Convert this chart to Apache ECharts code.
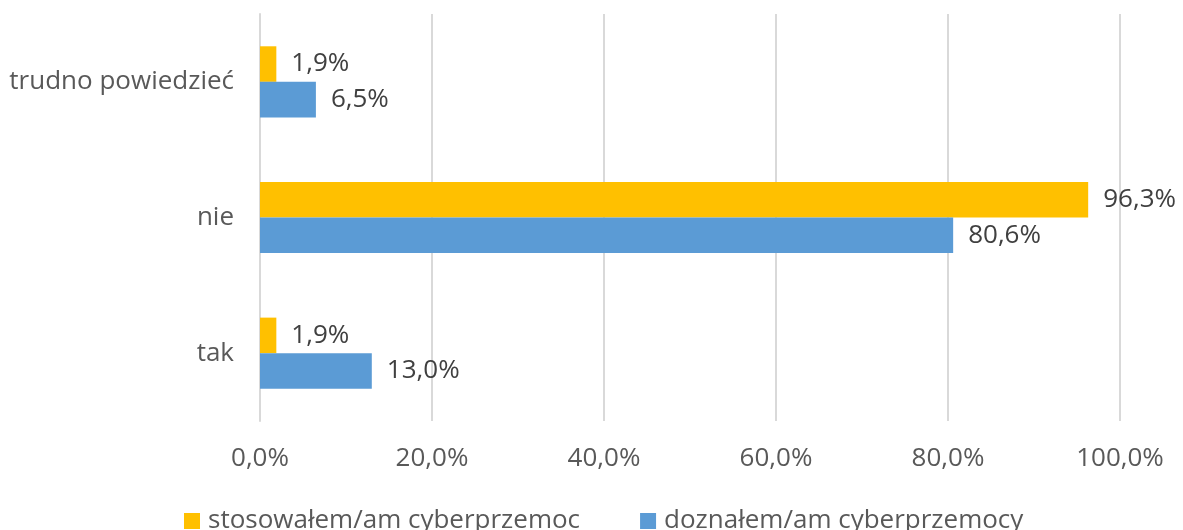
<!DOCTYPE html>
<html>
<head>
<meta charset="utf-8">
<script src="https://cdn.jsdelivr.net/npm/echarts@6/dist/echarts.min.js"></script>
<style>
  html, body { margin: 0; padding: 0; background: #ffffff; }
  #chart { width: 1183px; height: 530px; }
</style>
</head>
<body>
<div id="chart"></div>
<script>
// Answers, listed bottom to top on the vertical axis
const categories = ['tak', 'nie', 'trudno powiedzieć'];
const seriesNames = ['stosowałem/am cyberprzemoc', 'doznałem/am cyberprzemocy'];
// Shares in percent
const stosowalem = [1.9, 96.3, 1.9];
const doznalem = [13.0, 80.6, 6.5];
const xTicks = [0, 20, 40, 60, 80, 100];

const FONT = 'Open Sans';
const SIZE = 26;
const fmt = v => v.toFixed(1).replace('.', ',') + '%';

const chart = echarts.init(document.getElementById('chart'), null, { renderer: 'canvas' });

const labelStyle = {
  show: true,
  position: 'right',
  distance: 15,
  fontFamily: FONT,
  fontSize: SIZE,
  color: '#404040',
  formatter: p => fmt(p.value)
};

chart.setOption({
  animation: false,
  backgroundColor: '#ffffff',
  grid: { left: 260, right: 63, top: 14, bottom: 109, containLabel: false },
  legend: {
    data: [seriesNames[0], seriesNames[1]],
    bottom: -9,
    left: 179,
    itemWidth: 16,
    itemHeight: 16,
    itemGap: 60,
    icon: 'rect',
    textStyle: { fontFamily: FONT, fontSize: SIZE, color: '#595959', padding: [0, 0, 0, 3] }
  },
  xAxis: {
    type: 'value',
    min: xTicks[0],
    max: xTicks[xTicks.length - 1],
    interval: 20,
    axisLine: { show: false },
    axisTick: { show: false },
    splitLine: { show: true, lineStyle: { color: '#d9d9d9', width: 2 } },
    axisLabel: {
      margin: 25,
      fontFamily: FONT,
      fontSize: SIZE,
      color: '#595959',
      formatter: v => fmt(v)
    }
  },
  yAxis: {
    type: 'category',
    data: categories,
    axisLine: { show: true, lineStyle: { color: '#d9d9d9', width: 2 } },
    axisTick: { show: false },
    axisLabel: { margin: 26, fontFamily: FONT, fontSize: SIZE, color: '#595959' }
  },
  series: [
    {
      name: seriesNames[0],
      type: 'bar',
      data: stosowalem,
      barGap: '0%',
      barCategoryGap: '47.6%',
      itemStyle: { color: '#FFC000' },
      label: labelStyle
    },
    {
      name: seriesNames[1],
      type: 'bar',
      data: doznalem,
      barGap: '0%',
      barCategoryGap: '47.6%',
      itemStyle: { color: '#5B9BD5' },
      label: labelStyle
    }
  ]
});
</script>
</body>
</html>
